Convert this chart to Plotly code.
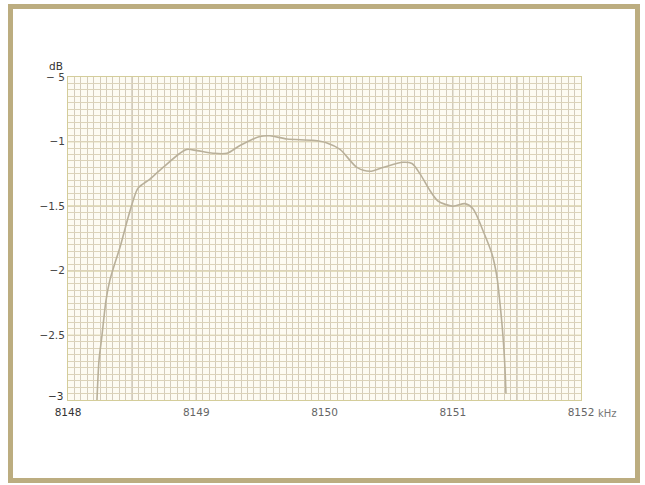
import numpy as np
import plotly.graph_objects as go

# Frequency (kHz) and level (dB)
freq_khz = [8148.226, 8148.242, 8148.265, 8148.296, 8148.327, 8148.366, 8148.405,
            8148.468, 8148.507, 8148.546, 8148.639, 8148.741, 8148.873, 8148.928,
            8149.006, 8149.131, 8149.240, 8149.341, 8149.497, 8149.575, 8149.708,
            8149.910, 8150.019, 8150.121, 8150.253, 8150.355, 8150.456, 8150.612,
            8150.682, 8150.745, 8150.823, 8150.885, 8151.002, 8151.096, 8151.158,
            8151.236, 8151.306, 8151.345, 8151.368, 8151.392, 8151.407, 8151.415]
level_db = [-3.00, -2.69, -2.50, -2.23, -2.07, -1.94, -1.82,
            -1.59, -1.46, -1.36, -1.29, -1.20, -1.09, -1.06,
            -1.07, -1.09, -1.09, -1.03, -0.96, -0.955, -0.98,
            -0.99, -1.01, -1.06, -1.20, -1.23, -1.20, -1.16,
            -1.17, -1.25, -1.38, -1.46, -1.50, -1.48, -1.52,
            -1.69, -1.87, -2.05, -2.25, -2.51, -2.75, -2.95]

x_tick_vals = [8148, 8149, 8150, 8151, 8152]
x_tick_text = ['<span style="color:#333">8148</span>', "8149", "8150", "8151", "8152"]
y_tick_vals = [-3, -2.5, -2, -1.5, -1, -0.5]
y_tick_text = ["", "\u22122.5", "\u22122", "\u22121.5", "\u22121", "\u2212 5"]
y_bottom_label = "\u22123"

# plot-area pixel geometry
W, H = 645, 485
L, R, T, B = 68, 64, 77, 85
pw, ph = W - L - R, H - T - B

def px(x):
    return (x - L) / pw

def py(y):
    return (H - B - y) / ph

fig = go.Figure()

# major grid lines every 0.5 (drawn as shapes so labels stay only at integers)
major_x = np.arange(8148.5, 8152, 0.5)
major_y = np.arange(-2.5, -0.5, 0.5)
shapes = []
for v in major_x:
    shapes.append(dict(type="line", xref="x", yref="paper", x0=v, x1=v, y0=0, y1=1,
                       line=dict(color="#a59d88", width=1), layer="below"))
for v in major_y:
    shapes.append(dict(type="line", xref="paper", yref="y", x0=0, x1=1, y0=v, y1=v,
                       line=dict(color="#cbc488", width=1.3), layer="below"))
# outer frame
shapes.append(dict(type="rect", xref="paper", yref="paper",
                   x0=px(10.5), x1=px(637.5), y0=py(480.5), y1=py(6.5),
                   line=dict(color="#bcad80", width=5), fillcolor="rgba(0,0,0,0)"))

fig.add_trace(go.Scatter(x=freq_khz, y=level_db, mode="lines",
                         line=dict(color="#b9b09a", width=1.6, shape="spline", smoothing=0.8),
                         hoverinfo="skip", showlegend=False))

fine_x = np.round(np.arange(8148.05, 8152, 0.05), 3)
fine_y = np.round(np.arange(-2.95, -0.5, 0.05), 3)

fig.update_layout(
    width=W, height=H,
    margin=dict(l=L, r=R, t=T, b=B, pad=0),
    paper_bgcolor="white",
    plot_bgcolor="#fdfbf2",
    font=dict(family="DejaVu Sans", size=10, color="#666"),
    shapes=shapes,
    showlegend=False,
    xaxis=dict(range=[8148, 8152], tickmode="array", tickvals=x_tick_vals,
               ticktext=x_tick_text, showgrid=False, zeroline=False,
               showline=True, linecolor="#d4cd9a", linewidth=1, mirror=True,
               ticks="", ticklen=0, ticklabelstandoff=2, tickfont=dict(size=10.5, color="#666"),
               minor=dict(tickmode="array", tickvals=fine_x, showgrid=True,
                          gridcolor="#d3cbbb", gridwidth=1, ticks="")),
    yaxis=dict(range=[-3, -0.5], tickmode="array", tickvals=y_tick_vals,
               ticktext=y_tick_text, showgrid=False, zeroline=False,
               showline=True, linecolor="#d4cd9a", linewidth=1, mirror=True,
               ticks="", ticklen=0, tickfont=dict(size=10.5, color="#444"),
               minor=dict(tickmode="array", tickvals=fine_y, showgrid=True,
                          gridcolor="#dcd3b9", gridwidth=1, ticks="")),
    annotations=[
        dict(text="dB", xref="paper", yref="paper", x=px(56), y=py(66),
             showarrow=False, font=dict(size=10.5, color="#333"), xanchor="center", yanchor="middle"),
        dict(text=y_bottom_label, xref="paper", yref="paper", x=px(65), y=py(396),
             showarrow=False, font=dict(size=10.5, color="#333"), xanchor="right", yanchor="middle"),
        dict(text="kHz", xref="paper", yref="paper", x=px(596), y=py(413),
             showarrow=False, font=dict(size=10, color="#777"), xanchor="left", yanchor="middle"),
    ],
)

fig.write_html("out.html", config={"displayModeBar": False},
               post_script="document.body.style.margin='0';document.body.style.overflow='hidden';")
